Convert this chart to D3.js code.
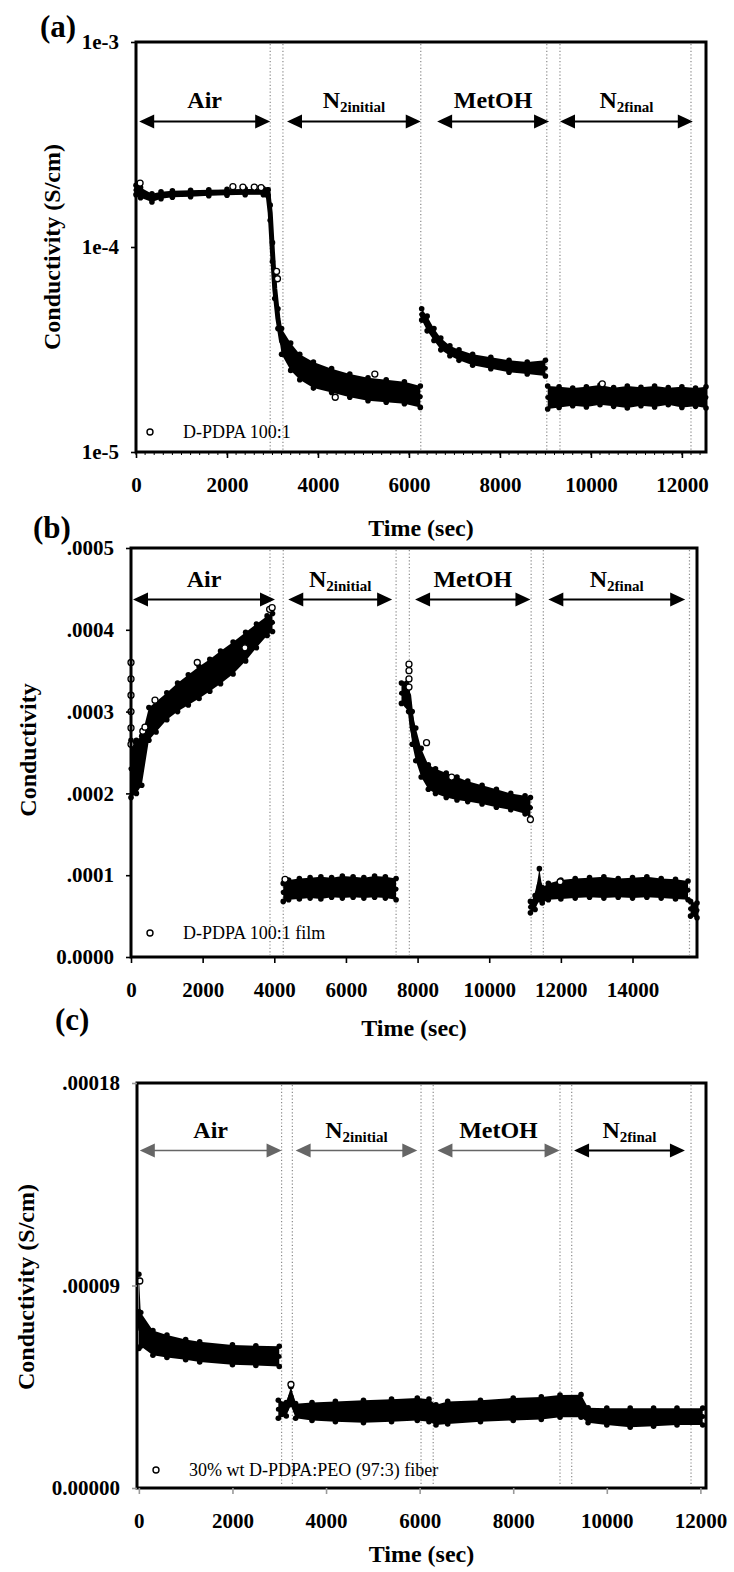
<!DOCTYPE html>
<html>
<head>
<meta charset="utf-8">
<script src="https://cdn.jsdelivr.net/npm/d3@7"></script>
<style>
  body { margin: 0; background: #fff; }
  svg { display: block; font-family: "Liberation Serif", "Times New Roman", serif; }
</style>
</head>
<body>
<svg id="fig" width="734" height="1572"></svg>
<script>
/* three conductivity-vs-time panels, one per sample, gas phases marked above */
"use strict";

const PHASE_NAMES = [["Air", ""], ["N", "2initial"], ["MetOH", ""], ["N", "2final"]];

/* -- (a) D-PDPA 100:1, log axis. rows are [time, low edge, high edge] ------ */
const A_AIR = [
  [0, 1.8e-4, 2.0e-4], [100, 1.74e-4, 1.95e-4], [350, 1.66e-4, 1.82e-4],
  [550, 1.72e-4, 1.86e-4], [800, 1.75e-4, 1.88e-4], [1200, 1.76e-4, 1.89e-4],
  [1600, 1.78e-4, 1.9e-4], [2000, 1.79e-4, 1.91e-4], [2400, 1.8e-4, 1.92e-4],
  [2800, 1.8e-4, 1.92e-4], [2900, 1.78e-4, 1.9e-4]
];
const A_N2I = [
  [2900, 1.78e-4, 1.9e-4], [2950, 1.35e-4, 1.6e-4], [3000, 8.5e-5, 1.05e-4],
  [3050, 5.6e-5, 7.0e-5], [3120, 4.0e-5, 5.0e-5], [3200, 3.0e-5, 4.0e-5],
  [3400, 2.5e-5, 3.4e-5], [3600, 2.25e-5, 3.0e-5], [3900, 2.05e-5, 2.75e-5],
  [4300, 1.95e-5, 2.55e-5], [4700, 1.85e-5, 2.4e-5], [5100, 1.78e-5, 2.3e-5],
  [5500, 1.75e-5, 2.25e-5], [5900, 1.72e-5, 2.2e-5], [6250, 1.65e-5, 2.1e-5]
];
const A_METOH = [
  [6280, 4.4e-5, 5.0e-5], [6400, 3.9e-5, 4.6e-5], [6550, 3.5e-5, 4.0e-5],
  [6700, 3.15e-5, 3.6e-5], [6900, 2.95e-5, 3.3e-5], [7100, 2.8e-5, 3.15e-5],
  [7400, 2.65e-5, 3.0e-5], [7800, 2.55e-5, 2.9e-5], [8200, 2.45e-5, 2.8e-5],
  [8600, 2.4e-5, 2.75e-5], [9000, 2.35e-5, 2.8e-5]
];
const A_N2F = [
  [9050, 1.62e-5, 2.1e-5], [9300, 1.65e-5, 2.08e-5], [9600, 1.68e-5, 2.05e-5],
  [9900, 1.66e-5, 2.08e-5], [10200, 1.7e-5, 2.12e-5], [10500, 1.67e-5, 2.06e-5],
  [10800, 1.64e-5, 2.1e-5], [11100, 1.68e-5, 2.07e-5], [11400, 1.66e-5, 2.1e-5],
  [11700, 1.7e-5, 2.06e-5], [12000, 1.65e-5, 2.08e-5], [12300, 1.67e-5, 2.05e-5],
  [12530, 1.64e-5, 2.08e-5]
];
const A_OPEN = [
  [90, 2.05e-4], [2130, 1.97e-4], [2350, 1.96e-4], [2600, 1.96e-4], [2750, 1.95e-4],
  [3090, 7.6e-5], [3110, 7.0e-5], [4380, 1.85e-5], [5250, 2.4e-5], [10250, 2.15e-5]
];
const A_PHASES = [[70, 2950], [3320, 6260], [6620, 9080], [9320, 12240]];
const A_DIVIDERS = [2950, 3230, 6260, 9030, 9320, 12200];
const A_XTICKS = [0, 2000, 4000, 6000, 8000, 10000, 12000];
const A_YTICKS = [1e-5, 1e-4, 1e-3];
const A_YLABELS = ["1e-5", "1e-4", "1e-3"];

/* -- (b) D-PDPA 100:1 film ------------------------------------------------- */
const B_AIR = [
  [0, 1.95e-4, 2.65e-4], [150, 2.0e-4, 2.65e-4], [300, 2.1e-4, 2.7e-4],
  [500, 2.65e-4, 3.05e-4], [700, 2.75e-4, 3.12e-4], [1000, 2.9e-4, 3.23e-4],
  [1300, 3.0e-4, 3.35e-4], [1600, 3.08e-4, 3.45e-4], [1900, 3.16e-4, 3.55e-4],
  [2200, 3.25e-4, 3.64e-4], [2500, 3.34e-4, 3.74e-4], [2850, 3.46e-4, 3.85e-4],
  [3200, 3.62e-4, 3.97e-4], [3500, 3.78e-4, 4.07e-4], [3800, 3.93e-4, 4.17e-4],
  [3950, 3.98e-4, 4.2e-4]
];
const B_N2I = [
  [4250, 6.8e-5, 9.0e-5], [4400, 7.0e-5, 9.4e-5], [4700, 7.1e-5, 9.6e-5],
  [5000, 7.2e-5, 9.7e-5], [5300, 7.1e-5, 9.8e-5], [5600, 7.3e-5, 9.7e-5],
  [5900, 7.2e-5, 9.9e-5], [6200, 7.3e-5, 9.8e-5], [6500, 7.2e-5, 9.7e-5],
  [6800, 7.3e-5, 9.9e-5], [7100, 7.2e-5, 9.8e-5], [7400, 7.0e-5, 9.6e-5]
];
const B_METOH = [
  [7550, 3.1e-4, 3.35e-4], [7750, 3.0e-4, 3.4e-4], [7850, 2.6e-4, 3.0e-4],
  [7950, 2.4e-4, 2.8e-4], [8100, 2.2e-4, 2.55e-4], [8300, 2.05e-4, 2.35e-4],
  [8500, 2.0e-4, 2.3e-4], [8800, 1.95e-4, 2.25e-4], [9100, 1.92e-4, 2.2e-4],
  [9400, 1.9e-4, 2.15e-4], [9800, 1.87e-4, 2.1e-4], [10200, 1.83e-4, 2.05e-4],
  [10600, 1.8e-4, 2.0e-4], [11000, 1.75e-4, 1.97e-4], [11150, 1.7e-4, 1.95e-4]
];
const B_N2F = [
  [11150, 5.4e-5, 6.8e-5], [11280, 5.8e-5, 7.5e-5], [11400, 7.0e-5, 1.08e-4],
  [11480, 6.6e-5, 8.5e-5], [11650, 7.0e-5, 9.0e-5], [12000, 7.1e-5, 9.4e-5],
  [12400, 7.2e-5, 9.6e-5], [12800, 7.3e-5, 9.7e-5], [13200, 7.2e-5, 9.8e-5],
  [13600, 7.3e-5, 9.6e-5], [14000, 7.2e-5, 9.7e-5], [14400, 7.3e-5, 9.8e-5],
  [14800, 7.2e-5, 9.6e-5], [15200, 7.1e-5, 9.5e-5], [15550, 7.0e-5, 9.3e-5]
];
const B_END = [[15620, 5.0e-5, 6.8e-5], [15800, 4.8e-5, 6.6e-5]];
const B_OPEN = [
  [0, 3.6e-4], [0, 3.4e-4], [0, 3.2e-4], [0, 3.0e-4], [0, 2.8e-4], [0, 2.6e-4],
  [330, 2.76e-4], [390, 2.81e-4], [670, 3.14e-4], [1850, 3.6e-4], [3180, 3.78e-4],
  [3870, 4.25e-4], [3940, 4.27e-4], [7760, 3.58e-4], [7760, 3.5e-4], [7760, 3.4e-4],
  [7760, 3.3e-4], [8250, 2.62e-4], [8950, 2.2e-4], [11150, 1.68e-4], [11980, 9.2e-5],
  [4300, 9.5e-5]
];
const B_PHASES = [[55, 4020], [4390, 7290], [7930, 11150], [11650, 15470]];
const B_DIVIDERS = [3880, 4250, 7400, 7770, 11170, 11510, 15590];
const B_XTICKS = [0, 2000, 4000, 6000, 8000, 10000, 12000, 14000];
const B_YTICKS = [0, 1e-4, 2e-4, 3e-4, 4e-4, 5e-4];
const B_YLABELS = ["0.0000", ".0001", ".0002", ".0003", ".0004", ".0005"];

/* -- (c) 30% wt D-PDPA:PEO (97:3) fiber ------------------------------------ */
const C_AIR = [
  [0, 6.2e-5, 9.5e-5], [40, 6.3e-5, 7.8e-5], [300, 5.9e-5, 7.0e-5],
  [600, 5.8e-5, 6.8e-5], [1000, 5.7e-5, 6.6e-5], [1300, 5.6e-5, 6.5e-5],
  [2000, 5.48e-5, 6.36e-5], [2500, 5.45e-5, 6.32e-5], [3000, 5.4e-5, 6.3e-5]
];
const C_REST = [
  [2980, 3.1e-5, 3.9e-5], [3150, 3.2e-5, 3.8e-5], [3250, 3.7e-5, 4.5e-5],
  [3350, 3.1e-5, 3.75e-5], [3700, 3.0e-5, 3.8e-5], [4200, 2.95e-5, 3.85e-5],
  [4800, 2.9e-5, 3.9e-5], [5400, 2.95e-5, 3.95e-5], [5950, 3.0e-5, 4.0e-5],
  [6200, 2.95e-5, 3.95e-5], [6350, 2.8e-5, 3.7e-5], [6600, 2.85e-5, 3.85e-5],
  [7300, 2.95e-5, 3.9e-5], [8000, 3.0e-5, 4.0e-5], [8600, 3.05e-5, 4.05e-5],
  [9000, 3.15e-5, 4.13e-5], [9450, 3.15e-5, 4.15e-5], [9600, 2.9e-5, 3.57e-5],
  [10000, 2.8e-5, 3.55e-5], [10500, 2.7e-5, 3.55e-5], [11000, 2.75e-5, 3.55e-5],
  [11500, 2.8e-5, 3.55e-5], [12050, 2.8e-5, 3.55e-5]
];
const C_OPEN = [[20, 9.2e-5], [3250, 4.6e-5]];
const C_PHASES = [[20, 3050], [3350, 5950], [6380, 8990], [9300, 11670]];
const C_DIVIDERS = [3050, 3280, 6030, 6290, 9000, 9250, 11800];
const C_XTICKS = [0, 2000, 4000, 6000, 8000, 10000, 12000];
const C_YTICKS = [0, 9e-5, 1.8e-4];
const C_YLABELS = ["0.00000", ".00009", ".00018"];

const svg = d3.select("#fig");

const PANELS = [
  {
    tag: "(a)", tagAt: [40, 37], log: true,
    left: 136, right: 706, top: 42, bottom: 452,
    xDomain: [0, 12530], yDomain: [1e-5, 1e-3],
    series: [A_AIR, A_N2I, A_METOH, A_N2F], open: A_OPEN,
    phases: A_PHASES, arrowLevel: 4.1e-4, dividers: A_DIVIDERS,
    xTicks: A_XTICKS, yTicks: A_YTICKS, yLabels: A_YLABELS, minor: 200,
    yTitle: "Conductivity (S/cm)", yTitleAt: [60, 247], xTitleY: 536,
    legend: "D-PDPA 100:1", legendAt: [150, 432],
    arrowColors: ["#000", "#000", "#000", "#000"], tickColor: "#000"
  },
  {
    tag: "(b)", tagAt: [33, 538], log: false,
    left: 131, right: 697, top: 548, bottom: 957,
    xDomain: [0, 15800], yDomain: [0, 5e-4],
    series: [B_AIR, B_N2I, B_METOH, B_N2F, B_END], open: B_OPEN,
    phases: B_PHASES, arrowLevel: 4.37e-4, dividers: B_DIVIDERS,
    xTicks: B_XTICKS, yTicks: B_YTICKS, yLabels: B_YLABELS, minor: 0,
    yTitle: "Conductivity", yTitleAt: [36, 750], xTitleY: 1036,
    legend: "D-PDPA 100:1 film", legendAt: [150, 933],
    arrowColors: ["#000", "#000", "#000", "#000"], tickColor: "#000"
  },
  {
    tag: "(c)", tagAt: [55, 1030], log: false,
    left: 137, right: 706, top: 1083, bottom: 1488,
    xDomain: [-40, 12120], yDomain: [0, 1.8e-4],
    series: [C_AIR, C_REST], open: C_OPEN,
    phases: C_PHASES, arrowLevel: 1.5e-4, dividers: C_DIVIDERS,
    xTicks: C_XTICKS, yTicks: C_YTICKS, yLabels: C_YLABELS, minor: 0,
    yTitle: "Conductivity (S/cm)", yTitleAt: [34, 1287], xTitleY: 1562,
    legend: "30% wt D-PDPA:PEO (97:3) fiber", legendAt: [156, 1470],
    arrowColors: ["#666", "#666", "#666", "#000"], tickColor: "#999"
  }
];

PANELS.forEach(drawPanel);

function drawPanel(p) {
  const x = d3.scaleLinear(p.xDomain, [p.left, p.right]);
  const y = (p.log ? d3.scaleLog() : d3.scaleLinear()).domain(p.yDomain).range([p.bottom, p.top]);
  const g = svg.append("g");

  /* dotted phase dividers */
  g.selectAll("line.div")
    .data(p.dividers)
    .join("line")
    .attr("class", "div")
    .attr("x1", (d) => x(d)).attr("x2", (d) => x(d))
    .attr("y1", p.top + 2).attr("y2", p.bottom - 2)
    .attr("stroke", "#8a8a8a")
    .attr("stroke-width", 1.2)
    .attr("stroke-dasharray", "1.2 2.2");

  /* dense scatter drawn as a noisy band */
  const area = d3.area().x((d) => x(d[0])).y0((d) => y(d[1])).y1((d) => y(d[2]));
  const mid = d3.line()
    .x((d) => x(d[0]))
    .y((d) => y(p.log ? Math.sqrt(d[1] * d[2]) : (d[1] + d[2]) / 2));
  for (const s of p.series) {
    g.append("path").attr("d", area(s)).attr("fill", "#000");
    g.append("path")
      .attr("d", mid(s))
      .attr("fill", "none")
      .attr("stroke", "#000")
      .attr("stroke-width", 5)
      .attr("stroke-linejoin", "round")
      .attr("stroke-linecap", "round");
    g.selectAll(null)
      .data(s.flatMap((d) => [[d[0], d[1]], [d[0], d[2]]]))
      .join("circle")
      .attr("cx", (d) => x(d[0]))
      .attr("cy", (d) => y(d[1]))
      .attr("r", 2.8)
      .attr("fill", "#000");
  }
  g.selectAll("circle.open")
    .data(p.open)
    .join("circle")
    .attr("class", "open")
    .attr("cx", (d) => x(d[0]))
    .attr("cy", (d) => y(d[1]))
    .attr("r", 3)
    .attr("fill", "#fff")
    .attr("stroke", "#000")
    .attr("stroke-width", 1.3);

  /* phase arrows */
  const ay = y(p.arrowLevel);
  const head = 15, half = 7;
  p.phases.forEach(([t0, t1], i) => {
    const x0 = x(t0), x1 = x(t1), c = p.arrowColors[i];
    g.append("line")
      .attr("x1", x0 + head - 2).attr("x2", x1 - head + 2)
      .attr("y1", ay).attr("y2", ay)
      .attr("stroke", c).attr("stroke-width", c === "#000" ? 2 : 1.3);
    g.append("path")
      .attr("d", `M${x0},${ay}L${x0 + head},${ay - half}L${x0 + head},${ay + half}Z`)
      .attr("fill", c);
    g.append("path")
      .attr("d", `M${x1},${ay}L${x1 - head},${ay - half}L${x1 - head},${ay + half}Z`)
      .attr("fill", c);
    const [main, sub] = PHASE_NAMES[i];
    const t = g.append("text")
      .attr("x", (x0 + x1) / 2)
      .attr("y", ay - 13)
      .attr("text-anchor", "middle")
      .attr("font-weight", "bold")
      .attr("font-size", 24)
      .text(main);
    if (sub) t.append("tspan").attr("font-size", 15).attr("dy", 4).text(sub);
  });

  /* frame */
  g.append("rect")
    .attr("x", p.left).attr("y", p.top)
    .attr("width", p.right - p.left).attr("height", p.bottom - p.top)
    .attr("fill", "none").attr("stroke", "#000").attr("stroke-width", 3);

  /* axes */
  const xAxis = g.append("g")
    .attr("transform", `translate(0,${p.bottom})`)
    .call(d3.axisBottom(x).tickValues(p.xTicks).tickFormat(d3.format("d")).tickSize(6).tickPadding(19));
  const yAxis = g.append("g")
    .attr("transform", `translate(${p.left},0)`)
    .call(d3.axisLeft(y).tickValues(p.yTicks).tickFormat((d, i) => p.yLabels[i]).tickSize(5).tickPadding(12));
  for (const ax of [xAxis, yAxis]) {
    ax.select(".domain").remove();
    ax.selectAll("line").attr("stroke-width", 1.6).attr("stroke", p.tickColor);
    ax.selectAll("text")
      .attr("font-family", "Liberation Serif, serif")
      .attr("font-weight", "bold")
      .attr("font-size", 21)
      .attr("fill", "#000");
  }
  if (p.minor) {
    g.selectAll("line.minor")
      .data(d3.range(p.xDomain[0], p.xDomain[1], p.minor))
      .join("line")
      .attr("class", "minor")
      .attr("x1", (d) => x(d)).attr("x2", (d) => x(d))
      .attr("y1", p.bottom).attr("y2", p.bottom + 3)
      .attr("stroke", "#000");
  }

  /* titles, tag, legend */
  g.append("text")
    .attr("x", (p.left + p.right) / 2)
    .attr("y", p.xTitleY)
    .attr("text-anchor", "middle")
    .attr("font-weight", "bold")
    .attr("font-size", 24)
    .text("Time (sec)");
  g.append("text")
    .attr("transform", `translate(${p.yTitleAt[0]},${p.yTitleAt[1]}) rotate(-90)`)
    .attr("text-anchor", "middle")
    .attr("font-weight", "bold")
    .attr("font-size", 24)
    .text(p.yTitle);
  g.append("text")
    .attr("x", p.tagAt[0]).attr("y", p.tagAt[1])
    .attr("font-weight", "bold")
    .attr("font-size", 31)
    .text(p.tag);
  g.append("circle")
    .attr("cx", p.legendAt[0]).attr("cy", p.legendAt[1])
    .attr("r", 3).attr("fill", "#fff").attr("stroke", "#000").attr("stroke-width", 1.4);
  g.append("text")
    .attr("x", p.legendAt[0] + 33).attr("y", p.legendAt[1] + 6)
    .attr("font-size", 18)
    .text(p.legend);
}
</script>
</body>
</html>
